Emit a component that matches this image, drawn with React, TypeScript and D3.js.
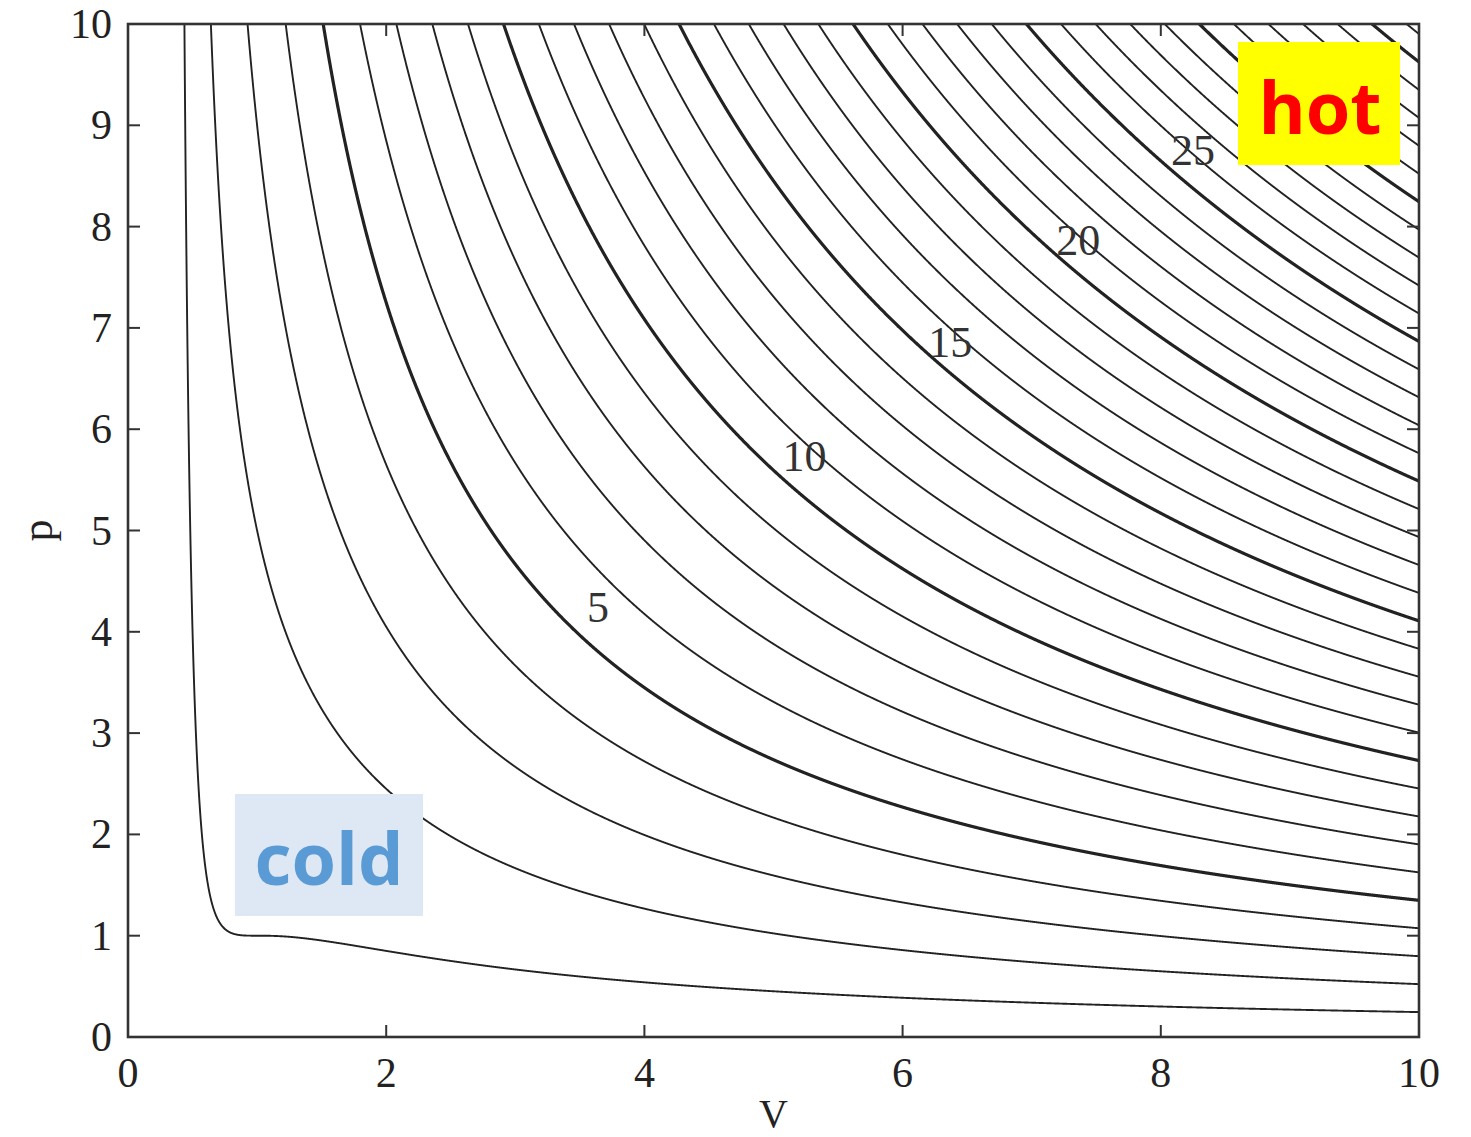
import React from "react";
import * as d3 from "d3";

const width = 1471;
const height = 1137;
const margin = { top: 24, right: 52, bottom: 100, left: 128 };

// reduced temperatures of the isotherms drawn
const temperatures = d3.range(1, 38);
const boldTemperatures = [5, 10, 15, 20, 25, 30, 35];
// curve labels: T and where the label sits (V, p)
const curveLabels = [
  { t: 5, v: 3.64, p: 4.24 },
  { t: 10, v: 5.24, p: 5.73 },
  { t: 15, v: 6.37, p: 6.86 },
  { t: 20, v: 7.36, p: 7.86 },
  { t: 25, v: 8.25, p: 8.75 },
];
const xTicks = [0, 2, 4, 6, 8, 10];
const yTicks = [0, 1, 2, 3, 4, 5, 6, 7, 8, 9, 10];
const volumes = d3.range(0.3345, 10.001, 0.002);

// reduced van der Waals equation of state
const pressure = (v: number, t: number) => (8 * t) / (3 * v - 1) - 3 / (v * v);

export default function App() {
  const x = d3.scaleLinear().domain([0, 10]).range([margin.left, width - margin.right]);
  const y = d3.scaleLinear().domain([0, 10]).range([height - margin.bottom, margin.top]);

  const makePath = (t: number) =>
    d3
      .line<number>()
      .x((v) => x(v))
      .y((v) => y(Math.max(-1, Math.min(pressure(v, t), 30))))(volumes.filter((v) => pressure(v, t) < 40)) || "";

  const serif = "'Times New Roman', 'Liberation Serif', Tinos, serif";
  const sans = "'Open Sans', 'Noto Sans', sans-serif";
  const axisColor = "#333";
  const tickLen = 12;
  const x0 = x(0), x1 = x(10), y0 = y(0), y1 = y(10);

  return (
    <div style={{ position: "absolute", left: 0, top: 0 }}>
      <svg width={width} height={height} style={{ display: "block", background: "#fff" }}>
        <defs>
          <clipPath id="plot">
            <rect x={x0} y={y1} width={x1 - x0} height={y0 - y1} />
          </clipPath>
        </defs>
        <g clipPath="url(#plot)">
          {temperatures.map((t) => (
            <path
              key={t}
              d={makePath(t)}
              fill="none"
              stroke="#222"
              strokeWidth={boldTemperatures.includes(t) ? 3.2 : 1.9}
            />
          ))}
        </g>
        {curveLabels.map((d) => (
          <text
            key={d.t}
            x={x(d.v)}
            y={y(d.p)}
            textAnchor="middle"
            dominantBaseline="central"
            fontFamily={serif}
            fontSize={44}
            fill="#333"
          >
            {d.t}
          </text>
        ))}
        {/* ticks on all four sides, pointing inward */}
        {xTicks.map((t) => (
          <g key={"x" + t}>
            <line x1={x(t)} x2={x(t)} y1={y0} y2={y0 - tickLen} stroke={axisColor} strokeWidth={2} />
            <line x1={x(t)} x2={x(t)} y1={y1} y2={y1 + tickLen} stroke={axisColor} strokeWidth={2} />
            <text x={x(t)} y={y0 + 50} textAnchor="middle" fontFamily={serif} fontSize={42} fill="#222">
              {t}
            </text>
          </g>
        ))}
        {yTicks.map((t) => (
          <g key={"y" + t}>
            <line x1={x0} x2={x0 + tickLen} y1={y(t)} y2={y(t)} stroke={axisColor} strokeWidth={2} />
            <line x1={x1} x2={x1 - tickLen} y1={y(t)} y2={y(t)} stroke={axisColor} strokeWidth={2} />
            <text
              x={x0 - 16}
              y={y(t)}
              textAnchor="end"
              dominantBaseline="central"
              fontFamily={serif}
              fontSize={42}
              fill="#222"
            >
              {t}
            </text>
          </g>
        ))}
        <rect x={x0} y={y1} width={x1 - x0} height={y0 - y1} fill="none" stroke={axisColor} strokeWidth={2.6} />
        <text x={(x0 + x1) / 2} y={height - 10} textAnchor="middle" fontFamily={serif} fontSize={40} fill="#222">
          V
        </text>
        <text
          transform={`translate(52, ${(y0 + y1) / 2}) rotate(-90)`}
          textAnchor="middle"
          fontFamily={serif}
          fontSize={44}
          fill="#222"
        >
          p
        </text>
        {/* annotations */}
        <rect x={1238} y={42} width={162} height={123} fill="#ffff00" />
        <text x={1320} y={106} textAnchor="middle" dominantBaseline="central" fontFamily={sans} fontWeight={700} fontSize={72} fill="#ff0000">
          hot
        </text>
        <rect x={235} y={794} width={188} height={122} fill="#dde8f4" />
        <text x={329} y={857} textAnchor="middle" dominantBaseline="central" fontFamily={sans} fontWeight={700} fontSize={72} fill="#5b9bd5">
          cold
        </text>
      </svg>
    </div>
  );
}
